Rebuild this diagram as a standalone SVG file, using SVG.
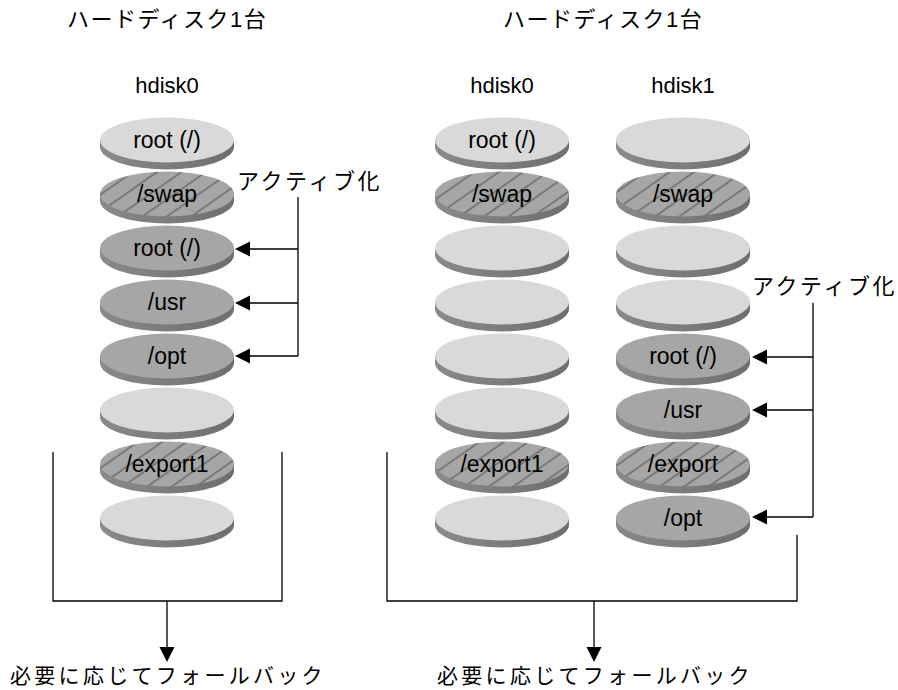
<svg xmlns="http://www.w3.org/2000/svg" width="898" height="690" viewBox="0 0 898 690">
<defs>
<pattern id="hatch" width="14" height="14" patternUnits="userSpaceOnUse" patternTransform="rotate(-35)">
<rect width="14" height="14" fill="#a6a6a6"/>
<line x1="0" y1="7" x2="14" y2="7" stroke="#6e6e6e" stroke-width="1.6"/>
</pattern>
<linearGradient id="sideG" x1="0" y1="0" x2="1" y2="0">
<stop offset="0" stop-color="#8a8a8a"/>
<stop offset="0.5" stop-color="#7c7c7c"/>
<stop offset="1" stop-color="#6e6e6e"/>
</linearGradient>
</defs>
<style>
.side{fill:url(#sideG)}
.light .face{fill:#d9d9d9}
.mid .face{fill:#a6a6a6}
.hat .face{fill:url(#hatch)}
.lbl{font-family:"Liberation Sans",Arial,sans-serif;font-size:23px;fill:#000;text-anchor:middle}
.hd{font-family:"Liberation Sans",Arial,sans-serif;font-size:22px;fill:#000;text-anchor:middle}
.jp{font-family:"Liberation Sans","Noto Sans CJK JP",sans-serif;font-size:21px;fill:#000}
.ln{stroke:#000;stroke-width:1.3;fill:none}
.ah{fill:#000}
</style>

<text class="jp" x="67" y="27" style="font-size:22px;letter-spacing:1.5px">ハードディスク1台</text>
<text class="jp" x="503" y="27" style="font-size:22px;letter-spacing:1.5px">ハードディスク1台</text>
<text class="hd" x="167" y="93">hdisk0</text>
<text class="hd" x="502" y="93">hdisk0</text>
<text class="hd" x="683" y="93">hdisk1</text>
<text class="jp" x="237" y="189" style="font-size:22px;letter-spacing:2.6px">アクティブ化</text>
<text class="jp" x="752" y="294" style="font-size:22px;letter-spacing:2.6px">アクティブ化</text>
<text class="jp" x="10" y="683" style="letter-spacing:3.3px">必要に応じてフォールバック</text>
<text class="jp" x="437" y="683" style="letter-spacing:3.3px">必要に応じてフォールバック</text>

<!-- Left stack -->
<g id="L0" class="light"><path class="side" d="M100,140v7A67,22.5 0 0 0 234,147V140Z"/><ellipse class="face" cx="167" cy="140" rx="67" ry="22.5"/><text class="lbl" x="167" y="148">root (/)</text></g>
<g id="L1" class="hat"><path class="side" d="M100,194v7A67,22.5 0 0 0 234,201V194Z"/><ellipse class="face" cx="167" cy="194" rx="67" ry="22.5"/><text class="lbl" x="167" y="202">/swap</text></g>
<g id="L2" class="mid"><path class="side" d="M100,248v7A67,22.5 0 0 0 234,255V248Z"/><ellipse class="face" cx="167" cy="248" rx="67" ry="22.5"/><text class="lbl" x="167" y="256">root (/)</text></g>
<g id="L3" class="mid"><path class="side" d="M100,302v7A67,22.5 0 0 0 234,309V302Z"/><ellipse class="face" cx="167" cy="302" rx="67" ry="22.5"/><text class="lbl" x="167" y="310">/usr</text></g>
<g id="L4" class="mid"><path class="side" d="M100,356v7A67,22.5 0 0 0 234,363V356Z"/><ellipse class="face" cx="167" cy="356" rx="67" ry="22.5"/><text class="lbl" x="167" y="364">/opt</text></g>
<g id="L5" class="light"><path class="side" d="M100,410v7A67,22.5 0 0 0 234,417V410Z"/><ellipse class="face" cx="167" cy="410" rx="67" ry="22.5"/></g>
<g id="L6" class="hat"><path class="side" d="M100,464v7A67,22.5 0 0 0 234,471V464Z"/><ellipse class="face" cx="167" cy="464" rx="67" ry="22.5"/><text class="lbl" x="167" y="472">/export1</text></g>
<g id="L7" class="light"><path class="side" d="M100,518v7A67,22.5 0 0 0 234,525V518Z"/><ellipse class="face" cx="167" cy="518" rx="67" ry="22.5"/></g>

<!-- Middle stack -->
<g id="M0" class="light"><path class="side" d="M435,140v7A67,22.5 0 0 0 569,147V140Z"/><ellipse class="face" cx="502" cy="140" rx="67" ry="22.5"/><text class="lbl" x="502" y="148">root (/)</text></g>
<g id="M1" class="hat"><path class="side" d="M435,194v7A67,22.5 0 0 0 569,201V194Z"/><ellipse class="face" cx="502" cy="194" rx="67" ry="22.5"/><text class="lbl" x="502" y="202">/swap</text></g>
<g id="M2" class="light"><path class="side" d="M435,248v7A67,22.5 0 0 0 569,255V248Z"/><ellipse class="face" cx="502" cy="248" rx="67" ry="22.5"/></g>
<g id="M3" class="light"><path class="side" d="M435,302v7A67,22.5 0 0 0 569,309V302Z"/><ellipse class="face" cx="502" cy="302" rx="67" ry="22.5"/></g>
<g id="M4" class="light"><path class="side" d="M435,356v7A67,22.5 0 0 0 569,363V356Z"/><ellipse class="face" cx="502" cy="356" rx="67" ry="22.5"/></g>
<g id="M5" class="light"><path class="side" d="M435,410v7A67,22.5 0 0 0 569,417V410Z"/><ellipse class="face" cx="502" cy="410" rx="67" ry="22.5"/></g>
<g id="M6" class="hat"><path class="side" d="M435,464v7A67,22.5 0 0 0 569,471V464Z"/><ellipse class="face" cx="502" cy="464" rx="67" ry="22.5"/><text class="lbl" x="502" y="472">/export1</text></g>
<g id="M7" class="light"><path class="side" d="M435,518v7A67,22.5 0 0 0 569,525V518Z"/><ellipse class="face" cx="502" cy="518" rx="67" ry="22.5"/></g>

<!-- Right stack -->
<g id="R0" class="light"><path class="side" d="M616,140v7A67,22.5 0 0 0 750,147V140Z"/><ellipse class="face" cx="683" cy="140" rx="67" ry="22.5"/></g>
<g id="R1" class="hat"><path class="side" d="M616,194v7A67,22.5 0 0 0 750,201V194Z"/><ellipse class="face" cx="683" cy="194" rx="67" ry="22.5"/><text class="lbl" x="683" y="202">/swap</text></g>
<g id="R2" class="light"><path class="side" d="M616,248v7A67,22.5 0 0 0 750,255V248Z"/><ellipse class="face" cx="683" cy="248" rx="67" ry="22.5"/></g>
<g id="R3" class="light"><path class="side" d="M616,302v7A67,22.5 0 0 0 750,309V302Z"/><ellipse class="face" cx="683" cy="302" rx="67" ry="22.5"/></g>
<g id="R4" class="mid"><path class="side" d="M616,356v7A67,22.5 0 0 0 750,363V356Z"/><ellipse class="face" cx="683" cy="356" rx="67" ry="22.5"/><text class="lbl" x="683" y="364">root (/)</text></g>
<g id="R5" class="mid"><path class="side" d="M616,410v7A67,22.5 0 0 0 750,417V410Z"/><ellipse class="face" cx="683" cy="410" rx="67" ry="22.5"/><text class="lbl" x="683" y="418">/usr</text></g>
<g id="R6" class="hat"><path class="side" d="M616,464v7A67,22.5 0 0 0 750,471V464Z"/><ellipse class="face" cx="683" cy="464" rx="67" ry="22.5"/><text class="lbl" x="683" y="472">/export</text></g>
<g id="R7" class="mid"><path class="side" d="M616,518v7A67,22.5 0 0 0 750,525V518Z"/><ellipse class="face" cx="683" cy="518" rx="67" ry="22.5"/><text class="lbl" x="683" y="526">/opt</text></g>

<g id="connectors">
<path class="ln" d="M298,197V356M298,249H249M298,303H249M298,356H249"/>
<polygon class="ah" points="235,249 250,241.5 250,256.5"/>
<polygon class="ah" points="235,303 250,295.5 250,310.5"/>
<polygon class="ah" points="235,356 250,348.5 250,363.5"/>
<path class="ln" d="M813,303V517M813,357H766M813,410H766M813,517H766"/>
<polygon class="ah" points="752,357 767,349.5 767,364.5"/>
<polygon class="ah" points="752,410 767,402.5 767,417.5"/>
<polygon class="ah" points="752,517 767,509.5 767,524.5"/>
<path class="ln" d="M53,452V601H282V452M167,601V649"/>
<polygon class="ah" points="167,662 159.5,647 174.5,647"/>
<path class="ln" d="M387,452V601H797V535M594,601V649"/>
<polygon class="ah" points="594,662 586.5,647 601.5,647"/>
</g>
</svg>
